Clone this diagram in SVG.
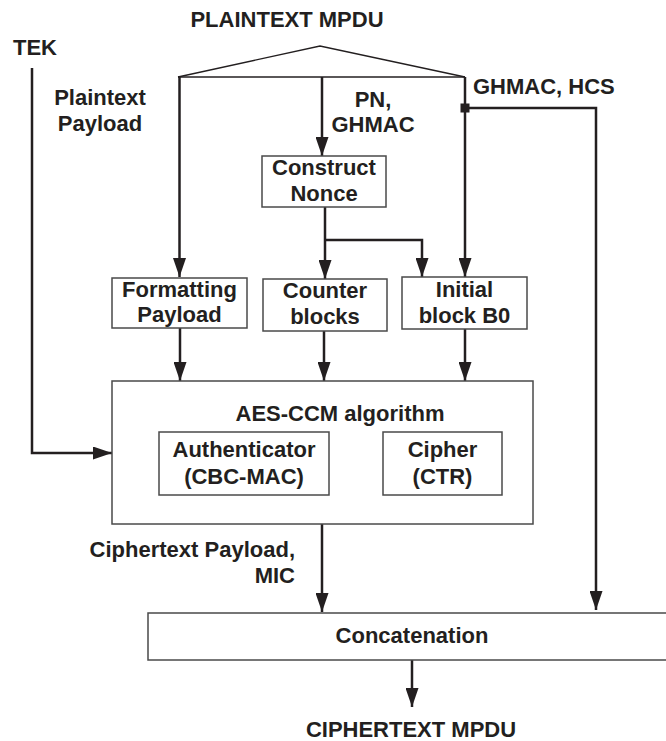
<svg xmlns="http://www.w3.org/2000/svg" width="666" height="741" viewBox="0 0 666 741">
  <style>
    text { font-family: "Liberation Sans", Arial, sans-serif; font-weight: bold; font-size: 22px; fill: #231f20; }
    .c { text-anchor: middle; }
    .r { text-anchor: end; }
    .box { fill: #ffffff; stroke: #4a4a4a; stroke-width: 1.5; }
    .wire { fill: none; stroke: #231f20; stroke-width: 2.5; }
    .thin { fill: none; stroke: #231f20; stroke-width: 1.4; }
  </style>
  <defs>
    <marker id="arrow" markerUnits="userSpaceOnUse" markerWidth="20" markerHeight="13" refX="19" refY="6.5" orient="auto">
      <path d="M0,0 L19,6.5 L0,13 z" fill="#231f20"/>
    </marker>
  </defs>

  <rect width="666" height="741" fill="#ffffff"/>

  <!-- free labels -->
  <g id="labels">
    <text x="287" y="27" class="c">PLAINTEXT MPDU</text>
    <text x="13" y="55">TEK</text>
    <text x="100" y="105" class="c">Plaintext</text>
    <text x="100" y="131" class="c">Payload</text>
    <text x="373" y="107" class="c">PN,</text>
    <text x="373" y="132" class="c">GHMAC</text>
    <text x="473" y="94">GHMAC, HCS</text>
    <text x="295" y="557" class="r">Ciphertext Payload,</text>
    <text x="295" y="583" class="r">MIC</text>
    <text x="411" y="737" class="c">CIPHERTEXT MPDU</text>
  </g>

  <!-- connectors -->
  <g id="connectors">
    <!-- split of the plaintext MPDU -->
    <polyline class="thin" points="178,77 320,46 465,77"/>
    <line class="thin" x1="178" y1="77" x2="465" y2="77"/>
    <line class="wire" x1="179.5" y1="77" x2="179.5" y2="277" marker-end="url(#arrow)"/>
    <line class="wire" x1="322" y1="77" x2="322" y2="156" marker-end="url(#arrow)"/>
    <line class="wire" x1="465" y1="77" x2="465" y2="277" marker-end="url(#arrow)"/>
    <!-- header bypass -->
    <polyline class="wire" points="465,108 596,108 596,610" marker-end="url(#arrow)"/>
    <rect x="460.5" y="103.5" width="9" height="9" fill="#231f20"/>
    <!-- nonce fan-out -->
    <line class="wire" x1="325" y1="207" x2="325" y2="279" marker-end="url(#arrow)"/>
    <polyline class="wire" points="325,240 422,240 422,277" marker-end="url(#arrow)"/>
    <!-- into AES-CCM -->
    <line class="wire" x1="180" y1="328" x2="180" y2="381" marker-end="url(#arrow)"/>
    <line class="wire" x1="324" y1="331" x2="324" y2="381" marker-end="url(#arrow)"/>
    <line class="wire" x1="465" y1="329" x2="465" y2="381" marker-end="url(#arrow)"/>
    <!-- key -->
    <polyline class="wire" points="32,68 32,453 112,453" marker-end="url(#arrow)"/>
    <!-- outputs -->
    <line class="wire" x1="322" y1="524" x2="322" y2="612" marker-end="url(#arrow)"/>
    <line class="wire" x1="412" y1="660" x2="412" y2="707" marker-end="url(#arrow)"/>
  </g>

  <g id="construct-nonce">
    <rect class="box" x="262" y="156" width="124" height="51"/>
    <text x="324" y="175" class="c">Construct</text>
    <text x="324" y="201" class="c">Nonce</text>
  </g>

  <g id="formatting-payload">
    <rect class="box" x="112" y="278" width="135" height="50"/>
    <text x="179.5" y="297" class="c">Formatting</text>
    <text x="179.5" y="322" class="c">Payload</text>
  </g>

  <g id="counter-blocks">
    <rect class="box" x="263" y="279" width="124" height="52"/>
    <text x="325" y="298" class="c">Counter</text>
    <text x="325" y="324" class="c">blocks</text>
  </g>

  <g id="initial-block">
    <rect class="box" x="402" y="277" width="125" height="52"/>
    <text x="464.5" y="297" class="c">Initial</text>
    <text x="464.5" y="323" class="c">block B0</text>
  </g>

  <g id="aes-ccm">
    <rect class="box" x="112" y="381" width="421" height="143"/>
    <text x="340" y="421" class="c">AES-CCM algorithm</text>
  </g>

  <g id="authenticator">
    <rect class="box" x="159" y="432" width="170" height="63"/>
    <text x="244" y="457" class="c">Authenticator</text>
    <text x="244" y="484" class="c">(CBC-MAC)</text>
  </g>

  <g id="cipher">
    <rect class="box" x="383" y="432" width="119" height="63"/>
    <text x="442.5" y="457" class="c">Cipher</text>
    <text x="442.5" y="484" class="c">(CTR)</text>
  </g>

  <g id="concatenation">
    <rect class="box" x="148" y="613" width="520" height="47"/>
    <text x="412" y="643" class="c">Concatenation</text>
  </g>
</svg>
